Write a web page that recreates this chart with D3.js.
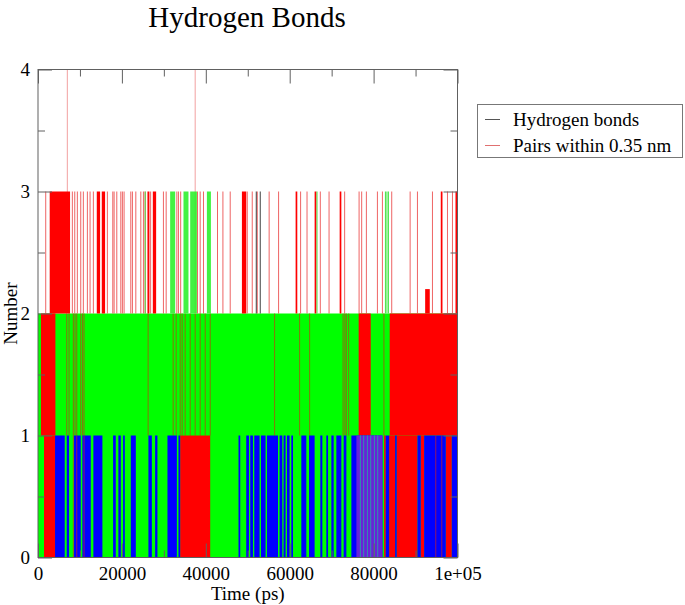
<!DOCTYPE html>
<html>
<head>
<meta charset="utf-8">
<script src="https://cdn.jsdelivr.net/npm/d3@7"></script>
<style>
  body { margin: 0; background: #fff; }
  svg text { font-family: "Liberation Serif", "Times New Roman", serif; }
</style>
</head>
<body>
<svg width="685" height="605"></svg>
<script>
const width = 685;
const height = 605;
const margin = { top: 69.5, right: 227.5, bottom: 47.5, left: 38 };

// axis ticks
const xMajor = [0, 20000, 40000, 60000, 80000, 100000];
const xMajorLabels = ["0", "20000", "40000", "60000", "80000", "1e+05"];
const xMinor = [10000, 30000, 50000, 70000, 90000];
const yMajor = [0, 1, 2, 3, 4];
const yMinor = [0.5, 1.5, 2.5, 3.5];

// legend
const legendNames = ["Hydrogen bonds", "Pairs within 0.35 nm"];

// time intervals (ps), grouped by level band
const redBlocks23 = [[2790, 7640], [14010, 14800], [15200, 15990], [26090, 26560], [27370, 28160],
    [48610, 49640], [61410, 61810], [65940, 66350], [71910, 72310], [96010, 96420], [99520, 100000]];
const redBump = [[92290, 93390]]; // up to 2.2
const greenBlocks23 = [[31500, 32700], [34680, 35870], [36280, 37880], [40260, 41220]];
const greenSpikes23 = [25550, 66510, 82820, 83180, 83530];
const redSpikes23 = [1840, 8190, 8760, 9380, 10190, 10810, 11770, 12410, 13200, 16540, 17830, 18140,
    18780, 19740, 20120, 20520, 22120, 22510, 23320, 24510, 25130, 25540, 26850, 29900, 30550, 33100,
    33480, 34010, 38020, 38660, 39450, 42790, 44080, 45820, 49880, 51070, 52270, 55100, 57350, 62600,
    64130, 67300, 69380, 73100, 76540, 77160, 78280, 80910, 82100, 84320, 88710, 90450, 94030, 97610, 98800];
const blackSpikes23 = [52030, 52980];
const pinkSpikes24 = [6990, 37470];

const redBlocks12 = [[700, 4150], [76440, 79310], [83840, 100000]];
const redLines12 = [6850, 7400, 8420, 8830, 9240, 10190, 10620, 10980, 26250, 32220, 32940, 33890,
    34370, 35080, 36280, 37470, 38660, 39860, 41050, 56400, 62360, 64750, 72720, 73150, 73510, 74060, 82460];

const redBlocks01 = [[1430, 4060], [33890, 41050], [82500, 82890], [83700, 85130], [85510, 90450],
    [91240, 92050], [97210, 98640]];
const blueBlocks01 = [[4060, 6370], [6850, 7400], [8590, 10190], [10570, 12580], [13200, 15350],
    [17900, 18540], [19160, 19740], [20290, 20690], [22120, 23320], [26320, 27140], [27920, 28470],
    [30860, 33100], [33480, 33890], [47800, 48210], [49640, 50290], [50600, 51240], [51550, 52820],
    [53150, 54250], [54580, 57210], [57590, 58230], [58540, 59020], [59350, 59980], [60380, 60790],
    [62770, 63960], [64610, 65940], [67300, 67780], [68730, 69140], [69930, 70480], [71120, 72310],
    [72860, 73510], [74700, 82100], [82890, 83700], [85130, 85510], [90450, 91240], [92050, 97210],
    [98640, 100000]];
const purpleBlocks01 = [[75900, 82100]];
const greenLines01 = [76850, 77640, 78520, 79310, 80190, 80980];
const redLines01 = [8420, 9240, 10980, 94820, 96250];

const svg = d3.select("svg");

const x = d3.scaleLinear().domain([0, 100000]).range([margin.left, width - margin.right]);
const y = d3.scaleLinear().domain([0, 4]).range([height - margin.bottom, margin.top]);

const plot = svg.append("g");

const blocks = (data, lo, hi, color, opacity = 1) => {
    plot.append("g")
        .selectAll("rect")
        .data(data)
        .join("rect")
        .attr("x", (d) => x(d[0]))
        .attr("width", (d) => Math.max(1, x(d[1]) - x(d[0])))
        .attr("y", y(hi))
        .attr("height", y(lo) - y(hi))
        .attr("fill", color)
        .attr("fill-opacity", opacity);
};

const spikes = (data, lo, hi, color, opacity = 1, w = 1) => {
    plot.append("g")
        .selectAll("line")
        .data(data)
        .join("line")
        .attr("x1", (d) => x(d))
        .attr("x2", (d) => x(d))
        .attr("y1", y(lo))
        .attr("y2", y(hi))
        .attr("stroke", color)
        .attr("stroke-opacity", opacity)
        .attr("stroke-width", w);
};

// base green band 0..2
blocks([[0, 100000]], 0, 2, "#00ff00");
blocks(redBlocks12, 1, 2, "#ff0000");
spikes(redLines12, 1, 2, "#c03a10", 0.7);
blocks(redBlocks01, 0, 1, "#ff0000");
blocks(blueBlocks01, 0, 1, "#0000ff");
blocks(purpleBlocks01, 0, 1, "#6a22d8");
spikes(greenLines01, 0, 1, "#20b0a0", 0.8);
spikes(redLines01, 0, 1, "#d02020", 0.7);

// band 2..3
spikes(pinkSpikes24, 2, 4, "#f2a0a0", 1);
spikes(redSpikes23, 2, 3, "#e83030", 0.75);
spikes(blackSpikes23, 2, 3, "#222", 0.85);
blocks(redBlocks23, 2, 3, "#ff0000");
blocks(redBump, 2, 2.2, "#ff0000");
blocks(greenBlocks23, 2, 3, "#22f022", 0.85);
spikes(greenSpikes23, 2, 3, "#30e030", 0.9);

// frame
const frameColor = "#606060";
svg.append("rect")
    .attr("x", x(0))
    .attr("y", y(4))
    .attr("width", x(100000) - x(0))
    .attr("height", y(0) - y(4))
    .attr("fill", "none")
    .attr("stroke", frameColor);

const styleAxis = (g) => {
    g.select(".domain").remove();
    g.selectAll(".tick line").attr("stroke", frameColor);
    g.selectAll(".tick text").attr("fill", "#000").style("font-size", "19px");
};

// bottom
svg.append("g")
    .attr("transform", `translate(0, ${y(0)})`)
    .call(d3.axisBottom(x).tickValues(xMajor).tickSize(-14).tickPadding(9)
        .tickFormat((d, i) => xMajorLabels[i]))
    .call(styleAxis);
svg.append("g")
    .attr("transform", `translate(0, ${y(0)})`)
    .call(d3.axisBottom(x).tickValues(xMinor).tickSize(-7).tickFormat(""))
    .call(styleAxis);
// top
svg.append("g")
    .attr("transform", `translate(0, ${y(4)})`)
    .call(d3.axisTop(x).tickValues(xMajor).tickSize(-14).tickFormat(""))
    .call(styleAxis);
svg.append("g")
    .attr("transform", `translate(0, ${y(4)})`)
    .call(d3.axisTop(x).tickValues(xMinor).tickSize(-7).tickFormat(""))
    .call(styleAxis);
// left
svg.append("g")
    .attr("transform", `translate(${x(0)}, 0)`)
    .call(d3.axisLeft(y).tickValues(yMajor).tickSize(-14).tickPadding(8).tickFormat(d3.format("d")))
    .call(styleAxis);
svg.append("g")
    .attr("transform", `translate(${x(0)}, 0)`)
    .call(d3.axisLeft(y).tickValues(yMinor).tickSize(-7).tickFormat(""))
    .call(styleAxis);
// right
svg.append("g")
    .attr("transform", `translate(${x(100000)}, 0)`)
    .call(d3.axisRight(y).tickValues(yMajor).tickSize(-14).tickFormat(""))
    .call(styleAxis);
svg.append("g")
    .attr("transform", `translate(${x(100000)}, 0)`)
    .call(d3.axisRight(y).tickValues(yMinor).tickSize(-7).tickFormat(""))
    .call(styleAxis);

// titles
svg.append("text")
    .attr("x", 247)
    .attr("y", 27)
    .attr("text-anchor", "middle")
    .style("font-size", "29px")
    .text("Hydrogen Bonds");

svg.append("text")
    .attr("x", (x(0) + x(100000)) / 2)
    .attr("y", 600)
    .attr("text-anchor", "middle")
    .style("font-size", "19px")
    .text("Time (ps)");

svg.append("text")
    .attr("transform", `translate(17, ${y(2)}) rotate(-90)`)
    .attr("text-anchor", "middle")
    .style("font-size", "19px")
    .text("Number");

// legend
const legend = svg.append("g");
legend.append("rect")
    .attr("x", 477.5)
    .attr("y", 104.5)
    .attr("width", 205)
    .attr("height", 53)
    .attr("fill", "#fff")
    .attr("stroke", "#777");
const legendColors = ["#555", "#e07070"];
legendNames.forEach((name, i) => {
    const cy = 119.5 + i * 26;
    legend.append("line")
        .attr("x1", 485).attr("x2", 500)
        .attr("y1", cy).attr("y2", cy)
        .attr("stroke", legendColors[i]);
    legend.append("text")
        .attr("x", 513)
        .attr("y", cy + 6)
        .style("font-size", "19px")
        .text(name);
});
</script>
</body>
</html>
